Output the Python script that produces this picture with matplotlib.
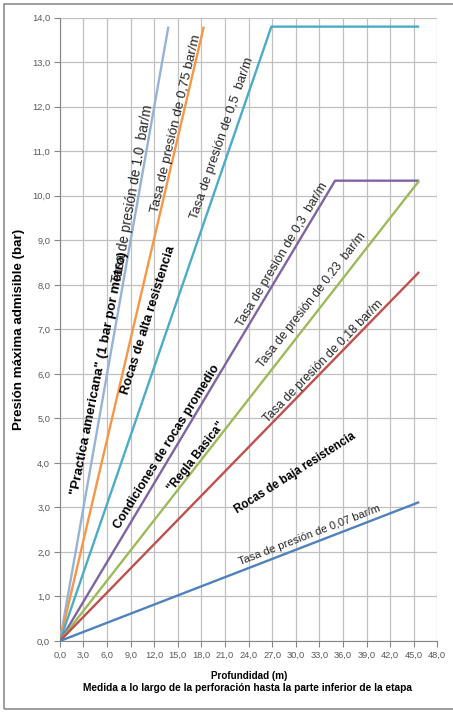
import matplotlib
matplotlib.use("Agg")
import matplotlib.pyplot as plt
from matplotlib.patches import Rectangle
from matplotlib.ticker import FuncFormatter, MultipleLocator

# depth (m) / pressure (bar) for each rate line
depth_10 = [0, 13.8]
press_10 = [0, 13.8]
depth_075 = [0, 18.3]
press_075 = [0, 13.8]
depth_05 = [0, 26.9, 45.7]
press_05 = [0, 13.8, 13.8]
depth_03 = [0, 35.0, 45.7]
press_03 = [0, 10.34, 10.34]
depth_023 = [0, 45.7]
press_023 = [0, 10.34]
depth_018 = [0, 45.7]
press_018 = [0, 8.29]
depth_007 = [0, 45.7]
press_007 = [0, 3.12]

series = [
    (depth_10, press_10, "#95B3D7"),
    (depth_075, press_075, "#F79646"),
    (depth_05, press_05, "#4BACC6"),
    (depth_03, press_03, "#8064A2"),
    (depth_023, press_023, "#9BBB59"),
    (depth_018, press_018, "#C0504D"),
    (depth_007, press_007, "#4F81BD"),
]

rate_texts = [
    "Tasa de presión de 1.0  bar/m",
    "Tasa de presión de 0,75 bar/m",
    "Tasa de presión de 0,5  bar/m",
    "Tasa de presión de 0,3  bar/m",
    "Tasa de presión de 0.23  bar/m",
    "Tasa de presión de 0,18 bar/m",
    "Tasa de presión de 0,07 bar/m",
]
group_texts = [
    "\"Practica americana\" (1 bar por metro)",
    "Rocas de alta resistencia",
    "Condiciones de rocas promedio",
    "\"Regla Basica\"",
    "Rocas de baja resistencia",
]

plt.rcParams['font.family'] = ['Liberation Sans', 'DejaVu Sans']

fig = plt.figure(figsize=(4.53, 7.12), dpi=100)
fig.patches.append(Rectangle((4 / 453, 3 / 712), 460 / 453, 705 / 712, transform=fig.transFigure,
                             fill=False, edgecolor="#8c8c8c", linewidth=1.2))
ax = fig.add_axes([0.1322, 0.0997, 0.8331, 0.8754])

for xs, ys, c in series:
    ax.plot(xs, ys, color=c, linewidth=1.7, solid_capstyle="butt", zorder=3)

ax.set_xlim(0, 48)
ax.set_ylim(0, 14)
ax.xaxis.set_major_locator(MultipleLocator(3))
ax.yaxis.set_major_locator(MultipleLocator(1))
fmt = FuncFormatter(lambda v, p: ("%.1f" % v).replace(".", ","))
ax.xaxis.set_major_formatter(fmt)
ax.yaxis.set_major_formatter(fmt)
ax.grid(True, color="#c0c0c0", linewidth=0.9)
ax.set_axisbelow(True)
for s in ["top", "right"]:
    ax.spines[s].set_visible(False)
for s in ["left", "bottom"]:
    ax.spines[s].set_color("#868686")
ax.tick_params(colors="#868686", length=4, width=0.8, labelcolor="#595959", labelsize=6.7, pad=3)

ax.set_ylabel("Presión máxima admisible (bar)", fontsize=9.6, fontweight="bold", labelpad=5)
fig.text(0.551, 0.050, "Profundidad (m)", ha="center", va="center", fontsize=7.1,
         fontweight="bold")
fig.text(0.546, 0.034, "Medida a lo largo de la perforación hasta la parte inferior de la etapa",
         ha="center", va="center", fontsize=7.3, fontweight="bold")

# text placement (data coords), rotation (deg), size
rate_pos = [(9.3, 10.05, 80, 9.8), (14.8, 11.62, 76.7, 9.7), (20.6, 11.3, 70.9, 9.3),
            (28.3, 8.68, 59.1, 9.0), (32.1, 7.66, 52.0, 8.7), (33.5, 6.27, 45.8, 8.8),
            (31.8, 2.37, 21.1, 8.0)]
for t, (x, y, r, fs) in zip(rate_texts, rate_pos):
    ax.text(x, y, t, rotation=r, rotation_mode="anchor", ha="center", va="center",
            fontsize=fs, color="#262626", zorder=4)

group_pos = [(4.97, 6.02, 78.7, 9.7), (11.3, 7.2, 72.5, 9.4), (13.6, 4.35, 58.3, 9.0),
             (17.4, 4.13, 52.0, 8.5), (29.9, 3.77, 32.5, 8.3)]
for t, (x, y, r, fs) in zip(group_texts, group_pos):
    ax.text(x, y, t, rotation=r, rotation_mode="anchor", ha="center", va="center",
            fontsize=fs, fontweight="bold", color="#000000", zorder=4)

fig.savefig("out.png", dpi=100)
